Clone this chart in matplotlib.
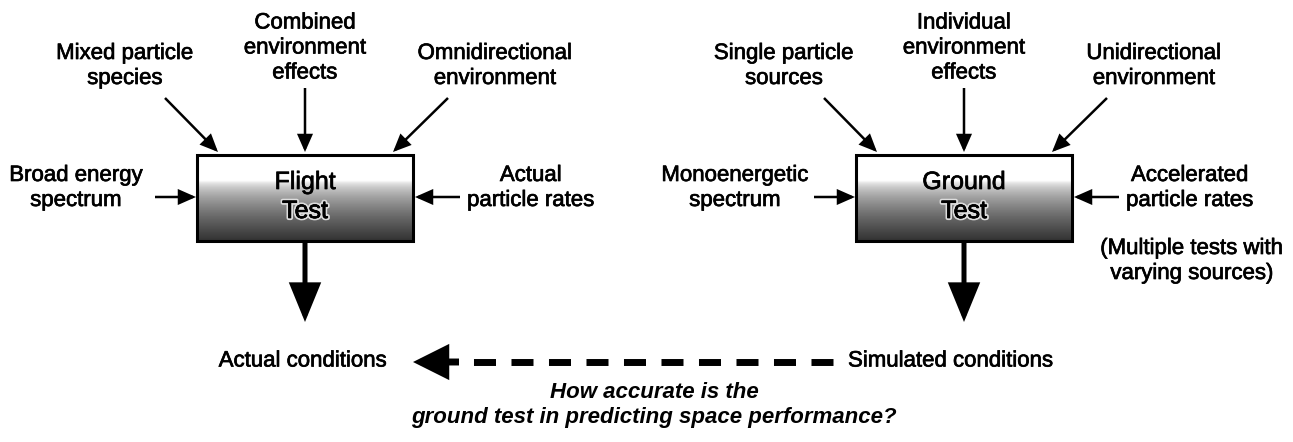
import numpy as np
import matplotlib
matplotlib.use("Agg")
import matplotlib.pyplot as plt
import matplotlib.patheffects as pe
from matplotlib.patches import Rectangle, FancyArrowPatch

plt.rcParams['font.family'] = ['Liberation Sans', 'DejaVu Sans']

# box labels and the inputs arrowing into each box
box_labels = ["Flight\nTest", "Ground\nTest"]
box_centers = [305, 964]
top_left_labels = ["Mixed particle\nspecies", "Single particle\nsources"]
top_mid_labels = ["Combined\nenvironment\neffects", "Individual\nenvironment\neffects"]
top_right_labels = ["Omnidirectional\nenvironment", "Unidirectional\nenvironment"]
side_left_labels = ["Broad energy\nspectrum", "Monoenergetic\nspectrum"]
side_right_labels = ["Actual\nparticle rates", "Accelerated\nparticle rates"]
result_labels = ["Actual conditions", "Simulated conditions"]
note = "(Multiple tests with\nvarying sources)"
question = "How accurate is the\nground test in predicting space performance?"

W, H = 1293, 442
fig = plt.figure(figsize=(W / 100, H / 100), dpi=100)
ax = fig.add_axes([0, 0, 1, 1])
ax.set_xlim(0, W)
ax.set_ylim(H, 0)
ax.axis('off')

heavy = [pe.withStroke(linewidth=0.5, foreground='black')]


def label(x, y, s, **kw):
    kw.setdefault('fontsize', 16)
    kw.setdefault('ha', 'center')
    ax.text(x, y, s, va='center', linespacing=1.25, path_effects=heavy, **kw)


def arrow(p0, p1, lw=1.8, ms=20, hl=0.5, hw=0.22):
    a = FancyArrowPatch(p0, p1, arrowstyle=f'-|>,head_length={hl},head_width={hw}',
                        mutation_scale=ms, lw=lw, color='black',
                        shrinkA=0, shrinkB=0, joinstyle='miter', capstyle='butt')
    ax.add_patch(a)


bw, bh, btop = 216, 86, 155
# vertical shading for the boxes (white at top, dark at bottom)
grad = np.linspace(0, 1, 100)
shade = np.clip((grad - 0.3) / 0.7, 0, 1) ** 0.6 * 0.8
shade = np.tile(shade[:, None], (1, 10))

for i, cx in enumerate(box_centers):
    left = cx - bw / 2
    ax.imshow(shade, cmap='gray_r', vmin=0, vmax=1, aspect='auto',
              extent=(left, left + bw, btop + bh, btop), zorder=1)
    ax.add_patch(Rectangle((left, btop), bw, bh, fill=False, lw=2.2,
                           ec='black', zorder=3))
    t1, t2 = box_labels[i].split("\n")
    ax.text(cx, 182, t1, ha='center', va='center', fontsize=18, zorder=4,
            path_effects=heavy)
    ax.text(cx, 211, t2, ha='center', va='center', fontsize=18, zorder=4,
            path_effects=[pe.withStroke(linewidth=3, foreground='#dddddd'),
                          pe.Normal(),
                          pe.withStroke(linewidth=0.5, foreground='black')])

    # top inputs
    label(cx - 180, 66, top_left_labels[i])
    arrow((cx - 140, 98), (cx - 87, 152))
    label(cx, 48, top_mid_labels[i])
    arrow((cx, 88), (cx, 152))
    label(cx + 190, 66, top_right_labels[i])
    arrow((cx + 143, 98), (cx + 88, 152))

    # side inputs
    label(cx - 229, 188, side_left_labels[i])
    arrow((cx - 150, 197), (cx - 109, 197))
    label(cx + 226, 188, side_right_labels[i])
    arrow((cx + 155, 197), (cx + 110, 197))

    # output
    arrow((cx, btop + bh), (cx, 322), lw=3.6, hl=1.1, hw=0.45)

label(303, 361, result_labels[0])
label(848, 361, result_labels[1], ha='left')
label(1192, 261, note)

# dashed comparison arrow (drawn right to left so the dashes start at the right)
ax.plot([833, 458], [362, 362], color='black', lw=5, dashes=(3.17, 2.23),
        solid_capstyle='butt', dash_capstyle='butt')
arrow((459, 362), (413, 362), lw=5, hl=0.9, hw=0.45)

ax.text(654, 405, question, ha='center', va='center', fontsize=16,
        fontweight='bold', fontstyle='italic', linespacing=1.2)

fig.savefig("out.png", dpi=100)
